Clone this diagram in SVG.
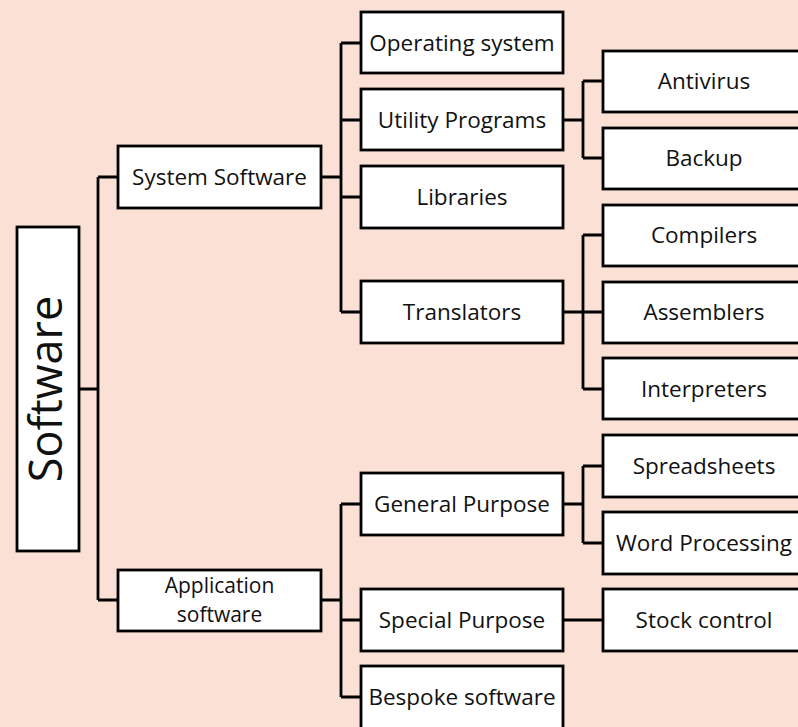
<svg xmlns="http://www.w3.org/2000/svg" width="798" height="727" viewBox="0 0 798 727">
  <style>
    .box { fill: #ffffff; stroke: #000000; stroke-width: 2.8; }
    .lbl { font-family: "Open Sans", "Liberation Sans", sans-serif; font-size: 22.5px; fill: #111111; text-anchor: middle; }
    .lbl2 { font-size: 21px; }
    .big { font-family: "Open Sans", "Liberation Sans", sans-serif; font-size: 45px; fill: #111111; text-anchor: middle; }
    .wire { fill: none; stroke: #000000; stroke-width: 2.8; stroke-linejoin: miter; }
  </style>
  <rect width="798" height="727" fill="#fbe1d5"/>

  <!-- connectors -->
  <g id="connectors">
    <path class="wire" d="M79 389 H98 M98 177 V600 M98 177 H118 M98 600 H118"/>
    <path class="wire" d="M321 177 H341 M341 43 V312 M341 43 H361 M341 120 H361 M341 197 H361 M341 312 H361"/>
    <path class="wire" d="M563 120 H583 M583 81 V158 M583 81 H603 M583 158 H603"/>
    <path class="wire" d="M563 312 H603 M583 235 V389 M583 235 H603 M583 389 H603"/>
    <path class="wire" d="M321 600 H341 M341 504 V697 M341 504 H361 M341 620 H361 M341 697 H361"/>
    <path class="wire" d="M563 504 H583 M583 466 V543 M583 466 H603 M583 543 H603"/>
    <path class="wire" d="M563 620 H603"/>
  </g>

  <!-- root -->
  <g id="software">
    <rect class="box" x="17" y="227" width="62" height="324"/>
    <text class="big" transform="translate(62 389) rotate(-90)">Software</text>
  </g>

  <!-- first level -->
  <g id="system-software">
    <rect class="box" x="118" y="146" width="203" height="62"/>
    <text class="lbl" x="219.5" y="185">System Software</text>
  </g>
  <g id="application-software">
    <rect class="box" x="118" y="570" width="203" height="61"/>
    <text class="lbl lbl2" x="219.5" y="593">Application</text>
    <text class="lbl lbl2" x="219.5" y="622">software</text>
  </g>

  <!-- system software branch -->
  <g id="operating-system">
    <rect class="box" x="361" y="12" width="202" height="61"/>
    <text class="lbl" x="462" y="51">Operating system</text>
  </g>
  <g id="utility-programs">
    <rect class="box" x="361" y="89" width="202" height="61"/>
    <text class="lbl" x="462" y="128">Utility Programs</text>
  </g>
  <g id="libraries">
    <rect class="box" x="361" y="166" width="202" height="62"/>
    <text class="lbl" x="462" y="205">Libraries</text>
  </g>
  <g id="translators">
    <rect class="box" x="361" y="281" width="202" height="62"/>
    <text class="lbl" x="462" y="320">Translators</text>
  </g>

  <g id="antivirus">
    <rect class="box" x="603" y="51" width="205" height="61"/>
    <text class="lbl" x="704" y="89">Antivirus</text>
  </g>
  <g id="backup">
    <rect class="box" x="603" y="128" width="205" height="61"/>
    <text class="lbl" x="704" y="166">Backup</text>
  </g>
  <g id="compilers">
    <rect class="box" x="603" y="205" width="205" height="61"/>
    <text class="lbl" x="704" y="243">Compilers</text>
  </g>
  <g id="assemblers">
    <rect class="box" x="603" y="282" width="205" height="61"/>
    <text class="lbl" x="704" y="320">Assemblers</text>
  </g>
  <g id="interpreters">
    <rect class="box" x="603" y="358" width="205" height="61"/>
    <text class="lbl" x="704" y="397">Interpreters</text>
  </g>

  <!-- application software branch -->
  <g id="general-purpose">
    <rect class="box" x="361" y="473" width="202" height="62"/>
    <text class="lbl" x="462" y="512">General Purpose</text>
  </g>
  <g id="special-purpose">
    <rect class="box" x="361" y="589" width="202" height="62"/>
    <text class="lbl" x="462" y="628">Special Purpose</text>
  </g>
  <g id="bespoke-software">
    <rect class="box" x="361" y="666" width="202" height="64"/>
    <text class="lbl" x="462" y="705">Bespoke software</text>
  </g>

  <g id="spreadsheets">
    <rect class="box" x="603" y="435" width="205" height="62"/>
    <text class="lbl" x="704" y="474">Spreadsheets</text>
  </g>
  <g id="word-processing">
    <rect class="box" x="603" y="512" width="205" height="62"/>
    <text class="lbl" x="704" y="551">Word Processing</text>
  </g>
  <g id="stock-control">
    <rect class="box" x="603" y="589" width="205" height="62"/>
    <text class="lbl" x="704" y="628">Stock control</text>
  </g>
</svg>
